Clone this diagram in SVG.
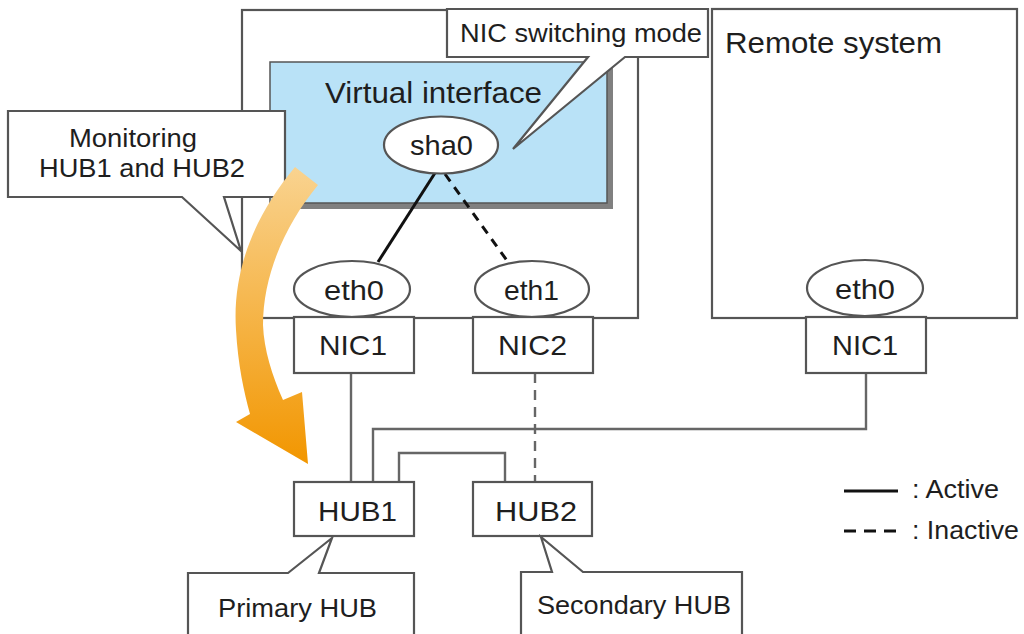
<svg xmlns="http://www.w3.org/2000/svg" width="1024" height="634" viewBox="0 0 1024 634">
<defs>
<style>
.box{fill:#fff;stroke:#555;stroke-width:2.2}
.t{font-family:"Liberation Sans",Arial,sans-serif;fill:#1e1e1e;font-size:28px}
.big{font-size:29px}
.sm{font-size:26px}
.gl{stroke:#666;stroke-width:2.4;fill:none}
.bl{stroke:#111;stroke-width:3;fill:none}
</style>
<linearGradient id="og" gradientUnits="userSpaceOnUse" x1="0" y1="167" x2="0" y2="464">
<stop offset="0" stop-color="#f9d390"/>
<stop offset="1" stop-color="#f29600"/>
</linearGradient>
</defs>
<rect width="1024" height="634" fill="#fff"/>

<g id="local-system">
<rect class="box" x="242" y="10" width="396" height="308"/>
</g>
<g id="remote-system">
<rect class="box" x="712" y="9" width="305" height="309"/>
<text class="t big" x="725" y="53" textLength="217" lengthAdjust="spacingAndGlyphs">Remote system</text>
</g>
<g id="virtual-interface">
<rect x="276" y="68" width="337" height="141" fill="#808080"/>
<rect x="270" y="62" width="337" height="141" fill="#b9e2f7" stroke="#555" stroke-width="1.5"/>
<text class="t big" x="325" y="103" textLength="217" lengthAdjust="spacingAndGlyphs">Virtual interface</text>
</g>

<g id="connectors">
<line class="bl" x1="435" y1="173" x2="378" y2="262"/>
<line class="bl" x1="445" y1="174" x2="508" y2="262" stroke-dasharray="9 7"/>
<line class="gl" x1="351" y1="373" x2="351" y2="482"/>
<line class="gl" x1="535" y1="373" x2="535" y2="482" stroke-dasharray="10 7"/>
<polyline class="gl" points="866,373 866,429 373,429 373,482"/>
<polyline class="gl" points="399,482 399,453 505,453 505,482"/>
</g>

<g id="sha0">
<ellipse class="box" cx="441" cy="145" rx="57" ry="28.5"/>
<text class="t" x="410" y="155" textLength="63" lengthAdjust="spacingAndGlyphs">sha0</text>
</g>
<g id="eth0">
<ellipse class="box" cx="352" cy="289" rx="58" ry="28"/>
<text class="t" x="324" y="300" textLength="60" lengthAdjust="spacingAndGlyphs">eth0</text>
</g>
<g id="eth1">
<ellipse class="box" cx="532" cy="289" rx="57" ry="28"/>
<text class="t" x="504" y="300" textLength="55" lengthAdjust="spacingAndGlyphs">eth1</text>
</g>
<g id="remote-eth0">
<ellipse class="box" cx="865" cy="288" rx="58" ry="28"/>
<text class="t" x="835" y="299" textLength="60" lengthAdjust="spacingAndGlyphs">eth0</text>
</g>
<g id="nic1">
<rect class="box" x="294" y="317" width="120" height="56"/>
<text class="t" x="319" y="355" textLength="68" lengthAdjust="spacingAndGlyphs">NIC1</text>
</g>
<g id="nic2">
<rect class="box" x="473" y="317" width="120" height="56"/>
<text class="t" x="498" y="355" textLength="69" lengthAdjust="spacingAndGlyphs">NIC2</text>
</g>
<g id="remote-nic1">
<rect class="box" x="806" y="317" width="120" height="56"/>
<text class="t" x="832" y="355" textLength="66" lengthAdjust="spacingAndGlyphs">NIC1</text>
</g>
<g id="hub1">
<rect class="box" x="294" y="482" width="120" height="54"/>
<text class="t" x="318" y="521" textLength="79" lengthAdjust="spacingAndGlyphs">HUB1</text>
</g>
<g id="hub2">
<rect class="box" x="473" y="482" width="119" height="54"/>
<text class="t" x="495" y="521" textLength="82" lengthAdjust="spacingAndGlyphs">HUB2</text>
</g>

<g id="callout-nic-switching">
<path class="box" d="M447,9 H708 V57 H625 L513,149 L588,57 H447 Z"/>
<text class="t sm" x="460" y="42" textLength="242" lengthAdjust="spacingAndGlyphs">NIC switching mode</text>
</g>
<g id="callout-monitoring">
<path class="box" d="M8,111 H285 V197 H224 L241,251 L182,197 H8 Z"/>
<text class="t sm" x="69" y="147" textLength="128" lengthAdjust="spacingAndGlyphs">Monitoring</text>
<text class="t sm" x="39" y="177" textLength="206" lengthAdjust="spacingAndGlyphs">HUB1 and HUB2</text>
</g>
<g id="callout-primary">
<path class="box" d="M188,645 V573 H288 L332,538 L319,573 H414 V645"/>
<text class="t sm" x="218" y="617" textLength="159" lengthAdjust="spacingAndGlyphs">Primary HUB</text>
</g>
<g id="callout-secondary">
<path class="box" d="M521,645 V572 H552 L541,537 L583,572 H742 V645"/>
<text class="t sm" x="537" y="614" textLength="194" lengthAdjust="spacingAndGlyphs">Secondary HUB</text>
</g>

<g id="monitor-arrow">
<path fill="url(#og)" d="M295,167 C255,215 232,270 236,330 C238,365 244,392 250,414 L236,422 L308,464 L302,392 L283,400 C272,375 264,350 263,325 C263,275 285,225 318,185 Z"/>
</g>

<g id="legend">
<line class="bl" x1="844" y1="491" x2="898" y2="491"/>
<text class="t sm" x="912" y="498" textLength="87" lengthAdjust="spacingAndGlyphs">: Active</text>
<line class="bl" x1="844" y1="531" x2="898" y2="531" stroke-dasharray="12 8"/>
<text class="t sm" x="912" y="539" textLength="107" lengthAdjust="spacingAndGlyphs">: Inactive</text>
</g>
</svg>
